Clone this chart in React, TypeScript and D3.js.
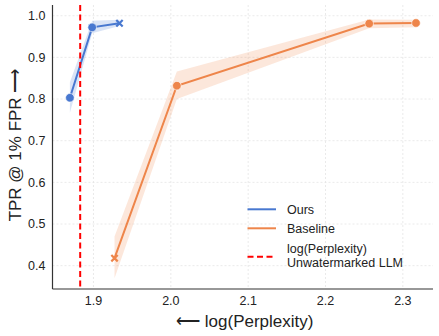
import React from "react";
import * as d3 from "d3";

const oursX = [1.8695, 1.8983, 1.9336];
const oursY = [0.803, 0.972, 0.982];
const oursLo = [0.767, 0.958, 0.975];
const oursHi = [0.84, 0.988, 0.99];
const oursMarkers = ["o", "o", "x"];

const baseX = [1.9272, 2.0078, 2.2565, 2.317];
const baseY = [0.418, 0.832, 0.981, 0.9825];
const baseLo = [0.37, 0.8, 0.97, 0.972];
const baseHi = [0.47, 0.866, 0.991, 0.99];
const baseMarkers = ["x", "o", "o", "o"];

const refX = 1.8828;

const xTicks = [1.9, 2.0, 2.1, 2.2, 2.3];
const yTicks = [0.4, 0.5, 0.6, 0.7, 0.8, 0.9, 1.0];

const legendLabels = ["Ours", "Baseline", "log(Perplexity)", "Unwatermarked LLM"];

const W = 439, H = 336;
const L = 52.5, R = 433, T = 5, B = 289;
const BLUE = "#4878d0", ORANGE = "#ee854a";
const FONT = "'Liberation Sans', Arial, sans-serif";

export default function App() {
  const x = d3.scaleLinear().domain([1.847, 2.339]).range([L, R]);
  const y = d3.scaleLinear().domain([0.344, 1.0257]).range([B, T]);

  const series = [
    { xs: oursX, ys: oursY, lo: oursLo, hi: oursHi, m: oursMarkers, c: BLUE },
    { xs: baseX, ys: baseY, lo: baseLo, hi: baseHi, m: baseMarkers, c: ORANGE },
  ];

  const line = d3.line<[number, number]>().x(d => x(d[0])).y(d => y(d[1]));
  const area = d3
    .area<[number, number, number]>()
    .x(d => x(d[0]))
    .y0(d => y(d[1]))
    .y1(d => y(d[2]));

  return (
    <svg width={W} height={H} style={{ position: "absolute", left: 0, top: 0 }} fontFamily={FONT}>
      <rect width={W} height={H} fill="white" />
      {xTicks.map(t => (
        <line key={"gx" + t} x1={x(t)} x2={x(t)} y1={T} y2={B} stroke="#e4e4e4" strokeWidth={0.8} strokeDasharray="2,2" />
      ))}
      {yTicks.map(t => (
        <line key={"gy" + t} x1={L} x2={R} y1={y(t)} y2={y(t)} stroke="#e4e4e4" strokeWidth={0.8} strokeDasharray="2,2" />
      ))}
      {series.map((s, i) => (
        <g key={"s" + i}>
          <path
            d={area(s.xs.map((v, j) => [v, s.lo[j], s.hi[j]] as [number, number, number])) || ""}
            fill={s.c}
            fillOpacity={0.2}
          />
          <path d={line(s.xs.map((v, j) => [v, s.ys[j]] as [number, number])) || ""} fill="none" stroke={s.c} strokeWidth={2} />
          {s.xs.map((v, j) =>
            s.m[j] === "o" ? (
              <circle key={j} cx={x(v)} cy={y(s.ys[j])} r={4.3} fill={s.c} stroke="white" strokeWidth={0.6} />
            ) : (
              <path
                key={j}
                d={`M${x(v) - 3.2},${y(s.ys[j]) - 3.2}L${x(v) + 3.2},${y(s.ys[j]) + 3.2}M${x(v) - 3.2},${y(s.ys[j]) + 3.2}L${x(v) + 3.2},${y(s.ys[j]) - 3.2}`}
                stroke={s.c}
                strokeWidth={2.2}
              />
            )
          )}
        </g>
      ))}
      <line x1={x(refX)} x2={x(refX)} y1={T} y2={B} stroke="#ff0000" strokeWidth={2} strokeDasharray="6,3.5" />
      <line x1={L} x2={L} y1={T} y2={B} stroke="#333" strokeWidth={1.2} />
      <line x1={L} x2={R} y1={B} y2={B} stroke="#333" strokeWidth={1.2} />
      {xTicks.map(t => (
        <text key={"tx" + t} x={x(t)} y={B + 16} textAnchor="middle" fontSize={12.5} fill="#222">
          {t.toFixed(1)}
        </text>
      ))}
      {yTicks.map(t => (
        <text key={"ty" + t} x={L - 7} y={y(t) + 4.4} textAnchor="end" fontSize={12.5} fill="#222">
          {t.toFixed(1)}
        </text>
      ))}
      <text x={(L + R) / 2 + 2} y={327} textAnchor="middle" fontSize={17} fill="#222">
        ⟵ log(Perplexity)
      </text>
      <text
        transform={`translate(21,${(T + B) / 2 - 2}) rotate(-90)`}
        textAnchor="middle"
        fontSize={17}
        fill="#222"
      >
        TPR @ 1% FPR ⟶
      </text>
      <g fontSize={12.5} fill="#222">
        <line x1={247.5} x2={276} y1={209.3} y2={209.3} stroke={BLUE} strokeWidth={2} />
        <text x={287} y={213.5}>{legendLabels[0]}</text>
        <line x1={247.5} x2={276} y1={228.3} y2={228.3} stroke={ORANGE} strokeWidth={2} />
        <text x={287} y={232.5}>{legendLabels[1]}</text>
        <line x1={247.5} x2={276} y1={256.7} y2={256.7} stroke="#ff0000" strokeWidth={2} strokeDasharray="6,3.5" />
        <text x={287} y={253.2}>{legendLabels[2]}</text>
        <text x={287} y={267}>{legendLabels[3]}</text>
      </g>
    </svg>
  );
}
